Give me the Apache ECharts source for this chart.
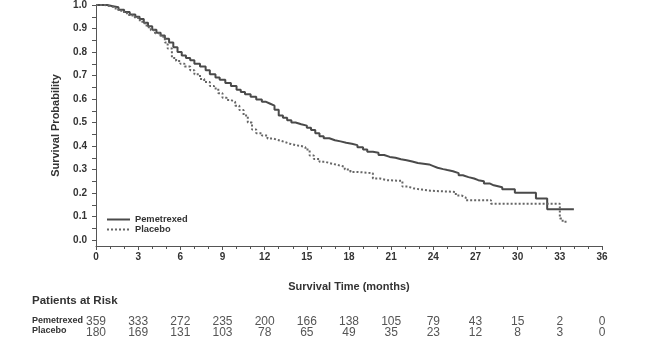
<!DOCTYPE html>
<html><head><meta charset="utf-8">
<script src="https://cdn.jsdelivr.net/npm/echarts@6/dist/echarts.min.js"></script>
<style>html,body{margin:0;padding:0;background:#fff}#c{width:666px;height:363px}</style>
</head><body><div id="c"></div>
<script>
// Kaplan-Meier curves: [month, survival probability]
const pemetrexedCurve = [
[0,1.0],[0.8,0.995],[1.2,0.99],[1.6,0.98],[2.0,0.97],[2.4,0.96],[2.8,0.95],[3.1,0.94],[3.4,0.925],[3.7,0.91],
[4.0,0.895],[4.3,0.882],[4.6,0.870],[4.9,0.856],[5.2,0.840],[5.5,0.820],[5.8,0.800],[6.1,0.785],[6.4,0.775],[6.7,0.765],
[7.0,0.750],[7.4,0.738],[7.8,0.722],[8.1,0.705],[8.5,0.692],[8.8,0.682],[9.2,0.668],[9.6,0.655],[10.0,0.640],[10.3,0.630],
[10.6,0.620],[11.0,0.610],[11.4,0.598],[11.8,0.588],[12.1,0.580],[12.4,0.572],[12.7,0.555],[13.0,0.530],[13.3,0.520],[13.6,0.510],
[13.9,0.500],[14.2,0.493],[14.6,0.487],[15.0,0.478],[15.3,0.468],[15.6,0.455],[15.9,0.442],[16.2,0.433],[16.6,0.425],[17.0,0.420],
[17.4,0.414],[17.8,0.410],[18.2,0.404],[18.6,0.395],[19.0,0.385],[19.3,0.376],[19.7,0.372],[20.1,0.362],[20.5,0.354],[20.9,0.350],
[21.3,0.344],[21.7,0.340],[22.1,0.334],[22.5,0.328],[22.9,0.325],[23.3,0.322],[23.7,0.315],[24.0,0.308],[24.3,0.302],[24.7,0.298],
[25.0,0.293],[25.4,0.285],[25.8,0.276],[26.1,0.268],[26.5,0.262],[26.9,0.255],[27.2,0.250],[27.6,0.241],[28.0,0.233],[28.3,0.225],
[28.9,0.216],[29.8,0.201],[31.3,0.177],[32.1,0.131],[34.0,0.131]
];
const placeboCurve = [
[0,1.0],[0.6,0.995],[1.0,0.99],[1.4,0.98],[1.8,0.97],[2.2,0.958],[2.6,0.948],[3.0,0.935],[3.3,0.922],[3.6,0.905],
[3.9,0.893],[4.2,0.880],[4.6,0.865],[4.9,0.840],[5.1,0.815],[5.4,0.775],[5.7,0.762],[6.0,0.750],[6.3,0.738],[6.7,0.723],
[7.0,0.705],[7.4,0.685],[7.7,0.672],[8.1,0.655],[8.4,0.645],[8.7,0.625],[9.0,0.605],[9.3,0.596],[9.6,0.588],[9.9,0.572],
[10.2,0.553],[10.5,0.530],[10.8,0.500],[11.1,0.470],[11.4,0.455],[11.8,0.445],[12.2,0.432],[12.6,0.425],[13.0,0.418],[13.4,0.410],
[13.8,0.404],[14.2,0.400],[14.6,0.395],[14.9,0.385],[15.2,0.360],[15.5,0.345],[15.9,0.333],[16.3,0.325],[16.8,0.318],[17.3,0.312],
[17.7,0.300],[18.1,0.290],[18.6,0.286],[19.4,0.284],[19.7,0.262],[20.2,0.255],[20.7,0.252],[21.8,0.228],[22.2,0.220],[22.6,0.215],
[23.2,0.210],[23.8,0.205],[25.6,0.190],[26.0,0.182],[26.3,0.170],[28.1,0.155],[33.0,0.092],[33.2,0.078],[33.6,0.078]
];
const seriesNames = ['Pemetrexed', 'Placebo'];
const riskMonths = [0,3,6,9,12,15,18,21,24,27,30,33,36];
const pemetrexedAtRisk = [359,333,272,235,200,166,138,105,79,43,15,2,0];
const placeboAtRisk = [180,169,131,103,78,65,49,35,23,12,8,3,0];
const yTickLabels = ['0.0','0.1','0.2','0.3','0.4','0.5','0.6','0.7','0.8','0.9','1.0'];
const yMinorTicks = ['0.05','0.15','0.25','0.35','0.45','0.55','0.65','0.75','0.85','0.95'];

const FONT = 'Liberation Sans, Arial, sans-serif';
const chart = echarts.init(document.getElementById('c'), null, {renderer: 'canvas'});
const yLabelVals = yTickLabels.map(Number);
const yTickVals = yLabelVals.concat(yMinorTicks.map(Number)).sort((a,b)=>a-b);

function riskAxis(counts, offset) {
  return {
    type: 'value', gridIndex: 0, position: 'bottom', offset: offset,
    min: 0, max: 36, interval: 3,
    axisLine: {show: false}, axisTick: {show: false}, splitLine: {show: false},
    axisLabel: {
      show: true, margin: 0, fontFamily: FONT, fontSize: 12, color: '#555',
      formatter: v => { const i = riskMonths.indexOf(Math.round(v)); return i >= 0 ? String(counts[i]) : ''; }
    }
  };
}

chart.setOption({
  animation: false,
  backgroundColor: '#fff',
  grid: {left: 96, right: 64, top: 5, bottom: 117, containLabel: false},
  legend: {
    orient: 'vertical', left: 106, top: 215, itemWidth: 23, itemHeight: 10, itemGap: 1, padding: 0,
    itemStyle: {color: 'rgba(0,0,0,0)', borderColor: 'rgba(0,0,0,0)', borderWidth: 0},
    textStyle: {fontFamily: FONT, fontSize: 9.3, fontWeight: 'bold', color: '#333'},
    data: seriesNames
  },
  xAxis: [
    {
      type: 'value', min: 0, max: 36, interval: 3,
      name: 'Survival Time (months)', nameLocation: 'middle', nameGap: 35,
      nameTextStyle: {fontFamily: FONT, fontSize: 11, fontWeight: 'bold', color: '#333'},
      axisLine: {show: true, onZero: false, lineStyle: {color: '#555', width: 1}},
      axisTick: {show: true, length: 4, lineStyle: {color: '#555'}},
      minorTick: {show: true, splitNumber: 3, length: 3, lineStyle: {color: '#555'}},
      splitLine: {show: false},
      axisLabel: {fontFamily: FONT, fontSize: 10, fontWeight: 'bold', color: '#333', margin: 6}
    },
    riskAxis(pemetrexedAtRisk, 70),
    riskAxis(placeboAtRisk, 81)
  ],
  yAxis: {
    type: 'value', min: -0.025, max: 1,
    name: 'Survival Probability', nameLocation: 'middle', nameGap: 35, nameRotate: 90,
    nameTextStyle: {fontFamily: FONT, fontSize: 11, fontWeight: 'bold', color: '#333'},
    axisLine: {show: true, onZero: false, lineStyle: {color: '#555', width: 1}},
    axisTick: {show: true, length: 4, customValues: yTickVals, lineStyle: {color: '#555'}},
    splitLine: {show: false},
    axisLabel: {customValues: yLabelVals, formatter: v => v.toFixed(1), fontFamily: FONT, fontSize: 10, fontWeight: 'bold', color: '#333', margin: 9}
  },
  series: [
    {name: seriesNames[0], type: 'line', step: 'end', data: pemetrexedCurve, showSymbol: false, symbol: 'none',
     lineStyle: {color: '#4a4a4a', width: 2, type: 'solid'}, itemStyle: {color: '#4a4a4a'}},
    {name: seriesNames[1], type: 'line', step: 'end', data: placeboCurve, showSymbol: false, symbol: 'none',
     lineStyle: {color: '#666', width: 2, type: [2, 2]}, itemStyle: {color: '#666'}}
  ],
  graphic: [
    {type: 'text', left: 32, top: 295, style: {text: 'Patients at Risk', font: 'bold 11.5px ' + FONT, fill: '#333'}},
    {type: 'text', left: 32, top: 316, style: {text: seriesNames[0], font: 'bold 9px ' + FONT, fill: '#333'}},
    {type: 'text', left: 32, top: 326, style: {text: seriesNames[1], font: 'bold 9px ' + FONT, fill: '#333'}}
  ]
});
</script>
</body></html>
